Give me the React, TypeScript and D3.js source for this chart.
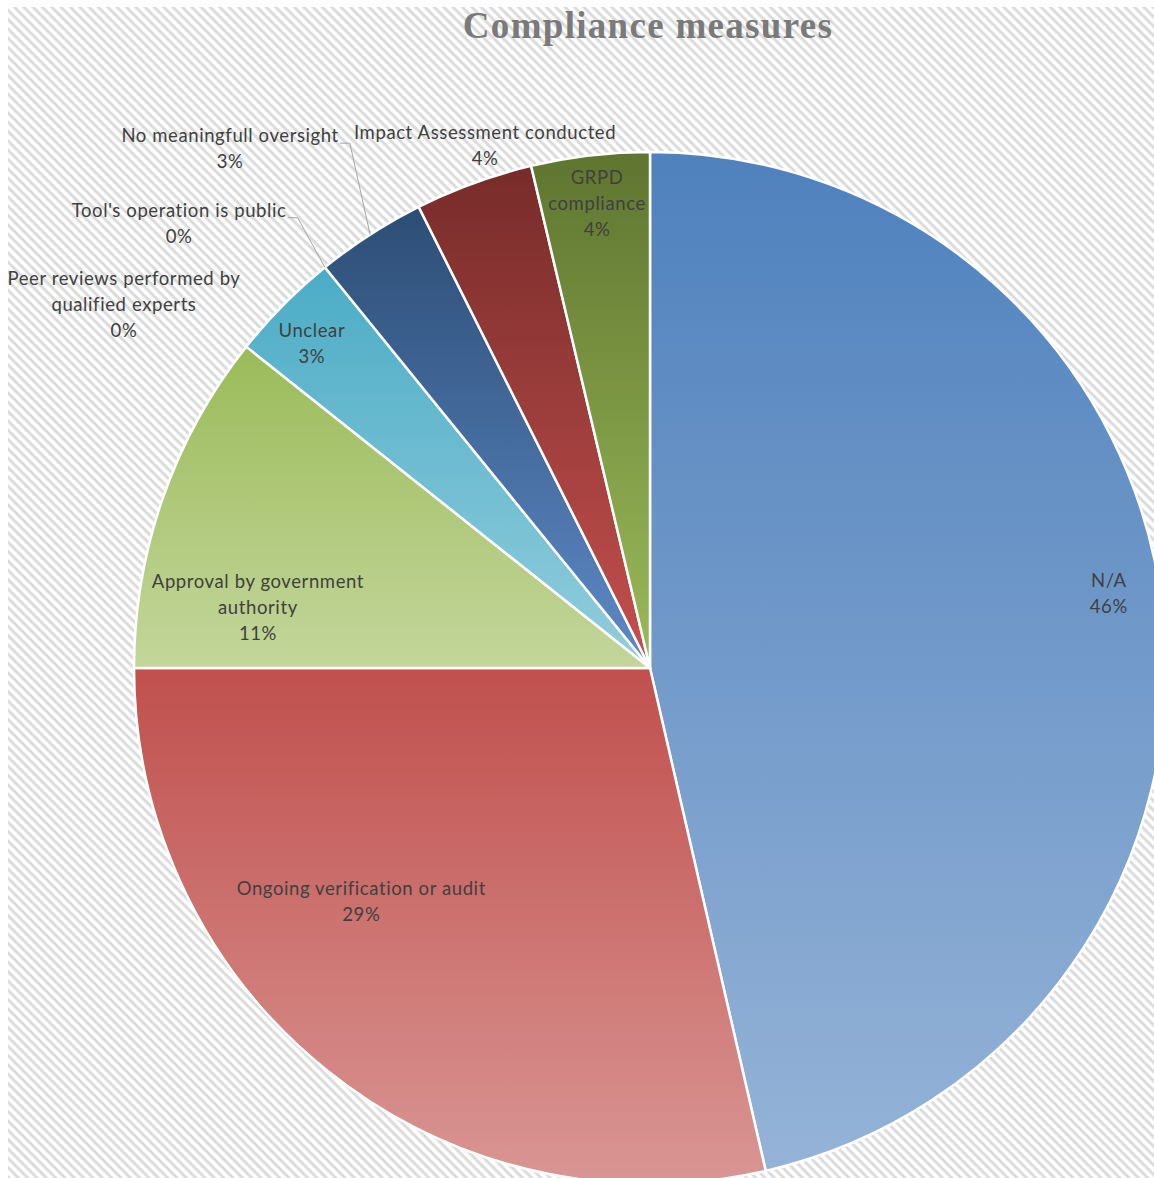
import React from "react";
import * as d3 from "d3";

// ---------- data ----------
const categories = [
  "N/A",
  "Ongoing verification or audit",
  "Approval by government authority",
  "Unclear",
  "Peer reviews performed by qualified experts",
  "Tool's operation is public",
  "No meaningfull oversight",
  "Impact Assessment conducted",
  "GRPD compliance",
];
const values = [46.4, 28.6, 10.7, 3.45, 0, 0, 3.45, 3.7, 3.7];
const labelLines = [
  ["N/A"],
  ["Ongoing verification or audit"],
  ["Approval by government", "authority"],
  ["Unclear"],
  ["Peer reviews performed by", "qualified experts"],
  ["Tool's operation is public"],
  ["No meaningfull oversight"],
  ["Impact Assessment conducted"],
  ["GRPD", "compliance"],
];
const topColors = ["#4F81BD", "#C0504D", "#9BBB59", "#4BACC6", "#8064A2", "#F79646", "#2C4D75", "#772C2A", "#5F7530"];
const bottomColors = ["#95B3D7", "#D99694", "#C3D69B", "#93CDDD", "#B3A2C7", "#FAC090", "#5E8AC7", "#C4504E", "#9BBB59"];
const title = "Compliance measures";

// ---------- layout (label placement, polar: angle in degrees clockwise from top, radius as fraction of R) ----------
const labelPolar: [number, number][] = [
  [80.7, 0.901],
  [231.1, 0.719],
  [278.85, 0.769],
  [313.87, 0.909],
  [304.7, 1.24],
  [313.4, 1.256],
  [321.07, 1.295],
  [342.5, 1.063],
  [353.5, 0.907],
];
const hasLeader = [false, false, false, false, false, true, true, false, false];

const W = 1154;
const H = 1178;
const CX = 650;
const CY = 668;
const R = 516;
const LINE_H = 26;
const LABEL_FONT = "Lato, 'Open Sans', sans-serif";
const LABEL_SIZE = 18.5;
const LABEL_SPACING = 0.6;

function measure(text: string): number {
  const fallback = text.length * 8.6;
  if (typeof document === "undefined") return fallback;
  const c = document.createElement("canvas");
  const ctx = c.getContext("2d");
  if (!ctx) return fallback;
  ctx.font = `${LABEL_SIZE}px Lato`;
  return ctx.measureText(text).width + LABEL_SPACING * text.length;
}

export default function App() {
  const total = d3.sum(values);
  const pie = d3
    .pie<number>()
    .sort(null)
    .value((d) => d)
    .startAngle(0)
    .endAngle(2 * Math.PI);
  const arcs = pie(values);
  const arc = d3.arc<d3.PieArcDatum<number>>().innerRadius(0).outerRadius(R);
  const pct = (v: number) => `${Math.round((v / total) * 100)}%`;

  const polar = (deg: number, r: number): [number, number] => {
    const a = (deg * Math.PI) / 180;
    return [Math.sin(a) * r, -Math.cos(a) * r];
  };

  return (
    <svg
      width={W}
      height={H}
      style={{ position: "absolute", left: 0, top: 0, display: "block" }}
    >
      <defs>
        <pattern
          id="hatch"
          patternUnits="userSpaceOnUse"
          width={6.6}
          height={6.6}
          patternTransform="rotate(45)"
        >
          <rect width={6.6} height={6.6} fill="#ffffff" />
          <rect width={6.6} height={3} fill="#dcdcdc" />
        </pattern>
        {arcs.map((a, i) => (
          <linearGradient key={i} id={`g${i}`} x1="0" y1="0" x2="0" y2="1">
            <stop offset="0" stopColor={topColors[i]} />
            <stop offset="1" stopColor={bottomColors[i]} />
          </linearGradient>
        ))}
      </defs>
      <rect x={0} y={0} width={W} height={H} fill="#ffffff" />
      <rect x={8} y={7} width={W - 8} height={H - 7} fill="url(#hatch)" />

      <text
        x={648}
        y={25}
        textAnchor="middle"
        dominantBaseline="central"
        fontFamily="'Liberation Serif', 'DejaVu Serif', serif"
        fontWeight="bold"
        fontSize={37}
        letterSpacing={1.3}
        fill="#7a7a7a"
      >
        {title}
      </text>

      <g transform={`translate(${CX},${CY})`}>
        {arcs.map((a, i) =>
          a.value > 0 ? (
            <path
              key={i}
              d={arc(a) || ""}
              fill={`url(#g${i})`}
              stroke="#ffffff"
              strokeWidth={2.5}
              strokeLinejoin="round"
            />
          ) : null
        )}

        {arcs.map((a, i) => {
          if (!hasLeader[i]) return null;
          const [lx, ly] = polar(labelPolar[i][0], labelPolar[i][1] * R);
          const n = labelLines[i].length + 1;
          const firstY = ly - ((n - 1) / 2) * LINE_H;
          const w = measure(labelLines[i][0]);
          const sx = lx + w / 2 + 1;
          const sy = firstY + 8;
          const mid = (a.startAngle + a.endAngle) / 2;
          const ex = Math.sin(mid) * R;
          const ey = -Math.cos(mid) * R;
          return (
            <polyline
              key={`l${i}`}
              points={`${sx},${sy} ${sx + 10},${sy} ${ex},${ey}`}
              fill="none"
              stroke="#a6a6a6"
              strokeWidth={1}
            />
          );
        })}

        {arcs.map((a, i) => {
          const [lx, ly] = polar(labelPolar[i][0], labelPolar[i][1] * R);
          const lines = [...labelLines[i], pct(a.value)];
          const n = lines.length;
          return (
            <text
              key={`t${i}`}
              textAnchor="middle"
              fontFamily={LABEL_FONT}
              fontSize={LABEL_SIZE}
              letterSpacing={LABEL_SPACING}
              fill="#404040"
            >
              {lines.map((s, k) => (
                <tspan
                  key={k}
                  x={lx}
                  y={ly + (k - (n - 1) / 2) * LINE_H}
                  dominantBaseline="central"
                >
                  {s}
                </tspan>
              ))}
            </text>
          );
        })}
      </g>
    </svg>
  );
}
